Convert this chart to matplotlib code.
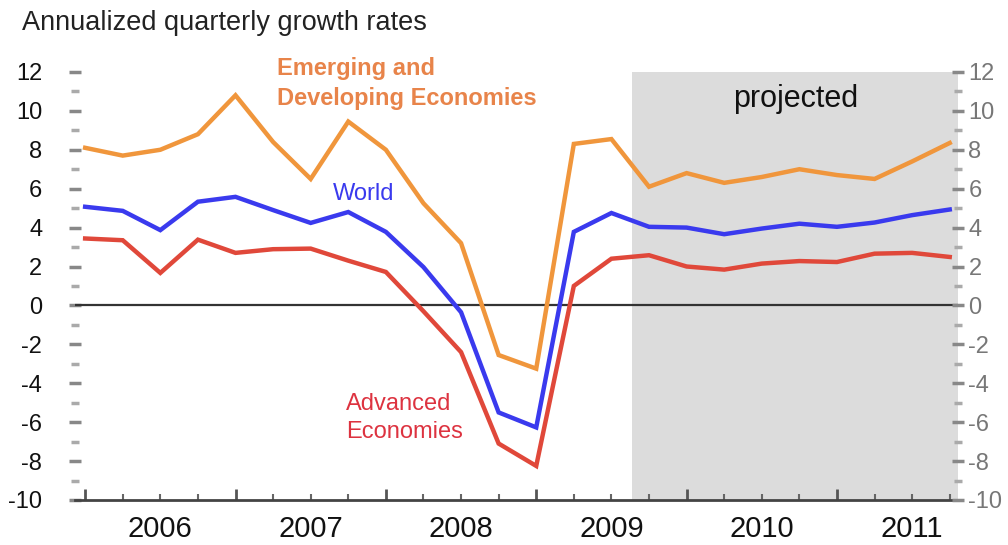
import matplotlib
matplotlib.use("Agg")
import matplotlib.pyplot as plt
from matplotlib.ticker import MultipleLocator

plt.rcParams['font.family'] = ['Liberation Sans', 'DejaVu Sans']
plt.rcParams['axes.unicode_minus'] = False

# Quarterly observations, 2006Q1 .. 2011Q4 (index 0..23)
quarters = list(range(24))
years = ["2006", "2007", "2008", "2009", "2010", "2011"]
emerging = [8.1, 7.7, 8.0, 8.8, 10.8, 8.4, 6.5, 9.45, 8.0, 5.25, 3.2, -2.55,
            -3.25, 8.3, 8.55, 6.1, 6.8, 6.3, 6.6, 7.0, 6.7, 6.5, 7.4, 8.35]
world = [5.07, 4.86, 3.87, 5.33, 5.58, 4.9, 4.24, 4.8, 3.78, 1.97, -0.35, -5.5,
         -6.27, 3.78, 4.75, 4.04, 4.0, 3.66, 3.95, 4.2, 4.04, 4.26, 4.64, 4.93]
advanced = [3.44, 3.35, 1.67, 3.38, 2.7, 2.89, 2.92, 2.3, 1.72, -0.3, -2.4, -7.1,
            -8.25, 1.0, 2.4, 2.58, 2.0, 1.84, 2.15, 2.28, 2.23, 2.66, 2.7, 2.49]
projected_start = 14.55

c_em = '#F0963C'
c_world = '#3A3AEE'
c_adv = '#E0483A'

fig = plt.figure(figsize=(10.08, 5.45), dpi=100)
ax = fig.add_axes([0.0744, 0.0826, 0.8760, 0.7854])

xmin, xmax = -0.27, 23.22
ax.set_xlim(xmin, xmax)
ax.set_ylim(-10, 12)

ax.axvspan(projected_start, xmax, color='#DCDCDC', lw=0, zorder=0)
ax.axhline(0, color='#333333', lw=1.6, zorder=2)

ax.plot(quarters, emerging, color=c_em, lw=3.2, zorder=3, solid_joinstyle='miter')
ax.plot(quarters, world, color=c_world, lw=3.2, zorder=3, solid_joinstyle='miter')
ax.plot(quarters, advanced, color=c_adv, lw=3.2, zorder=3, solid_joinstyle='miter')

for s in ['top', 'left', 'right']:
    ax.spines[s].set_visible(False)
ax.spines['bottom'].set_color('#444444')
ax.spines['bottom'].set_linewidth(2)

# x ticks: quarters (minor), year boundaries (major)
ax.set_xticks([q for q in quarters if q % 4 == 0])
ax.set_xticklabels([])
ax.set_xticks(quarters, minor=True)
ax.tick_params(axis='x', which='major', direction='in', length=8, width=2, color='#555555')
ax.tick_params(axis='x', which='minor', direction='in', length=4, width=1.5, color='#666666')
for k, yr in enumerate(years):
    ax.text(2 + 4 * k, -0.035, yr, transform=ax.get_xaxis_transform(),
            ha='center', va='top', fontsize=21, color='#111111')

# y ticks left
ax.yaxis.set_major_locator(MultipleLocator(2))
ax.yaxis.set_minor_locator(MultipleLocator(1))
ax.tick_params(axis='y', which='major', direction='inout', length=9, width=2.5,
               color='#888888', labelsize=17, pad=19, labelcolor='#111111')
ax.tick_params(axis='y', which='minor', direction='inout', length=6, width=2.5,
               color='#AAAAAA')

# y ticks right
ax2 = ax.twinx()
ax2.set_ylim(-10, 12)
for s in ['top', 'left', 'right', 'bottom']:
    ax2.spines[s].set_visible(False)
ax2.yaxis.set_major_locator(MultipleLocator(2))
ax2.yaxis.set_minor_locator(MultipleLocator(1))
ax2.tick_params(axis='y', which='major', direction='inout', length=9, width=2.5,
                color='#888888', labelsize=17, pad=3, labelcolor='#777777')
ax2.tick_params(axis='y', which='minor', direction='inout', length=6, width=2.5,
                color='#AAAAAA')

# Annotations
ax.text(5.1, 12.75, "Emerging and\nDeveloping Economies", color='#E8844A',
        fontsize=17, fontweight='bold', ha='left', va='top', linespacing=1.38)
ax.text(7.4, 5.75, "World", color=c_world, fontsize=17, ha='center', va='center')
ax.text(6.95, -5.8, "Advanced\nEconomies", color='#DD3340', fontsize=17,
        ha='left', va='center', linespacing=1.38)
ax.text(18.9, 10.6, "projected", color='#111111', fontsize=22, ha='center', va='center')

fig.text(0.022, 0.958, "Annualized quarterly growth rates", fontsize=19.5,
         ha='left', va='center', color='#222222')

fig.savefig("out.png", dpi=100)
